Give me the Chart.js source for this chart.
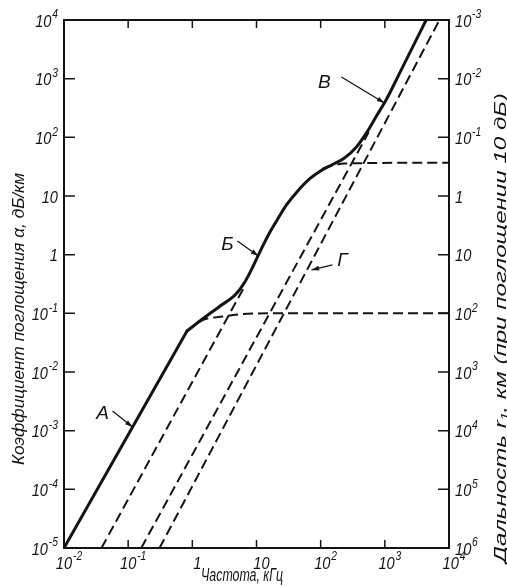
<!DOCTYPE html>
<html>
<head>
<meta charset="utf-8">
<script src="https://cdn.jsdelivr.net/npm/chart.js@4.4.1/dist/chart.umd.min.js"></script>
<style>
  html, body { margin: 0; padding: 0; background: #fff; }
  #wrap { width: 507px; height: 586px; position: relative; }
</style>
</head>
<body>
<div id="wrap"><canvas id="absorptionchart"></canvas></div>
<script>
// axis ticks, labels as [base, exponent]
const freqTicks = [1e-2, 1e-1, 1, 10, 1e2, 1e3, 1e4]
const freqLabels = [['10', '-2'], ['10', '-1'], ['1', ''], ['10', ''], ['10', '2'], ['10', '3'], ['10', '4']]
const alphaTicks = [1e-5, 1e-4, 1e-3, 1e-2, 1e-1, 1, 10, 1e2, 1e3, 1e4]
const alphaLabels = [['10', '-5'], ['10', '-4'], ['10', '-3'], ['10', '-2'], ['10', '-1'], ['1', ''], ['10', ''], ['10', '2'], ['10', '3'], ['10', '4']]
const rangeLabels = [['10', '6'], ['10', '5'], ['10', '4'], ['10', '3'], ['10', '2'], ['10', ''], ['1', ''], ['10', '-1'], ['10', '-2'], ['10', '-3']]

// total absorption, kHz / dB per km
const totalLowF = [0.01, 0.826]
const totalLowA = [1e-5, 0.050]
const totalF = [0.826, 1.44, 2.65, 4.71, 6.73, 8.97, 11.97, 15.9, 21.2, 29.3, 42, 67, 99.4, 153, 235, 361, 517, 741, 1061, 1694, 2700, 4405]
const totalA = [0.050, 0.080, 0.131, 0.209, 0.356, 0.654, 1.27, 2.34, 3.98, 7.04, 11.5, 19.5, 26.7, 34.4, 44.5, 68.4, 119, 231, 446, 1233, 3420, 10000]

// boric acid plateau
const boricF = [0.826, 1.46, 2.98, 6.1, 15.9, 1e4]
const boricA = [0.050, 0.077, 0.088, 0.097, 0.1, 0.1]

// MgSO4 rise and plateau
const mgF = [0.0384, 6.5]
const mgA = [1e-5, 0.287]
const mgPlatF = [108, 160, 234, 1e4]
const mgPlatA = [29.6, 33.5, 35.8, 37]

// viscous absorption, sea water and fresh water
const seaF = [0.16, 560]
const seaA = [1e-5, 122]
const freshF = [0.308, 7110]
const freshA = [1e-5, 1e4]

const ink = '#141414'
const family = '"Liberation Sans", "DejaVu Sans", sans-serif'

function pts(fs, as) {
    return fs.map((f, i) => ({ x: f, y: as[i] }))
}

function solid(fs, as, smooth) {
    return { data: pts(fs, as), borderColor: ink, borderWidth: 3, pointRadius: 0, borderCapStyle: 'round',
             borderJoinStyle: 'round', cubicInterpolationMode: smooth ? 'monotone' : 'default', tension: 0 }
}

function dashed(fs, as, smooth) {
    return { data: pts(fs, as), borderColor: ink, borderWidth: 2, borderDash: [10, 5], pointRadius: 0,
             cubicInterpolationMode: smooth ? 'monotone' : 'default', tension: 0 }
}

// curve letters: tip on the curve (data), tail and text offsets in px
const marks = [
    { text: 'А', f: 0.117, a: 1.15e-3, tx: -20, ty: -16, lx: -30, ly: -13 },
    { text: 'Б', f: 10.7, a: 0.95, tx: -21, ty: -15, lx: -31, ly: -11 },
    { text: 'В', f: 986, a: 385, tx: -43, ty: -26, lx: -60, ly: -20 },
    { text: 'Г', f: 72, a: 0.55, tx: 21, ty: -5, lx: 31, ly: -9 }
]

function fitText(ctx, text, x, y, angle, target) {
    ctx.save()
    ctx.translate(x, y)
    ctx.rotate(angle)
    let w = ctx.measureText(text).width
    ctx.scale(target / w, 1)
    ctx.textAlign = 'center'
    ctx.textBaseline = 'middle'
    ctx.fillText(text, 0, 0)
    ctx.restore()
}

// power-of-ten label: base plus raised exponent, slightly condensed
function drawPow(ctx, lab, x, y, align) {
    const sx = 0.86
    ctx.font = 'italic 17px ' + family
    let wb = ctx.measureText(lab[0]).width
    ctx.font = 'italic 12px ' + family
    let we = lab[1] ? ctx.measureText(lab[1]).width + 1 : 0
    let w = (wb + we) * sx
    let x0 = align === 'right' ? x - w : align === 'center' ? x - w / 2 : x
    ctx.save()
    ctx.translate(x0, y)
    ctx.scale(sx, 1)
    ctx.textAlign = 'left'
    ctx.textBaseline = 'middle'
    ctx.font = 'italic 17px ' + family
    ctx.fillText(lab[0], 0, 0)
    if (lab[1]) {
        ctx.font = 'italic 12px ' + family
        ctx.fillText(lab[1], wb + 1, -7)
    }
    ctx.restore()
}

const framePlugin = {
    id: 'frame',
    afterDraw(chart) {
        const { ctx, chartArea: a, scales } = chart
        ctx.save()
        ctx.strokeStyle = ink
        ctx.fillStyle = ink
        ctx.lineWidth = 2
        ctx.strokeRect(a.left, a.top, a.right - a.left, a.bottom - a.top)

        // inward tick marks
        ctx.lineWidth = 1.5
        ctx.beginPath()
        freqTicks.slice(1, -1).forEach(v => {
            let x = scales.x.getPixelForValue(v)
            ctx.moveTo(x, a.bottom); ctx.lineTo(x, a.bottom - 8)
            ctx.moveTo(x, a.top); ctx.lineTo(x, a.top + 8)
        })
        alphaTicks.slice(1, -1).forEach(v => {
            let y = scales.y.getPixelForValue(v)
            ctx.moveTo(a.left, y); ctx.lineTo(a.left + 11, y)
            ctx.moveTo(a.right, y); ctx.lineTo(a.right - 11, y)
        })
        ctx.stroke()

        // tick labels
        freqTicks.forEach((v, i) => drawPow(ctx, freqLabels[i], scales.x.getPixelForValue(v) + 5, a.bottom + 16, 'center'))
        alphaTicks.forEach((v, i) => {
            let y = scales.y.getPixelForValue(v) + 2
            drawPow(ctx, alphaLabels[i], a.left - 6, y, 'right')
            drawPow(ctx, rangeLabels[i], a.right + 6, y, 'left')
        })

        // axis titles
        ctx.font = 'italic 17px ' + family
        fitText(ctx, 'Коэффициент поглощения α, дБ/км', 19, 319, -Math.PI / 2, 292)
        fitText(ctx, 'Дальность r₁, км (при поглощении 10 дБ)', 501, 328, -Math.PI / 2, 470)
        ctx.font = 'italic 18px ' + family
        fitText(ctx, 'Частота, кГц', 242, 576, 0, 82)

        // curve letters with arrows
        ctx.font = 'italic 19px ' + family
        ctx.textAlign = 'center'
        ctx.textBaseline = 'middle'
        ctx.lineWidth = 1.3
        marks.forEach(m => {
            let x = scales.x.getPixelForValue(m.f)
            let y = scales.y.getPixelForValue(m.a)
            let x0 = x + m.tx, y0 = y + m.ty
            ctx.beginPath()
            ctx.moveTo(x0, y0); ctx.lineTo(x, y)
            ctx.stroke()
            let ang = Math.atan2(y - y0, x - x0)
            ctx.beginPath()
            ctx.moveTo(x, y)
            ctx.lineTo(x - 8 * Math.cos(ang - 0.3), y - 8 * Math.sin(ang - 0.3))
            ctx.lineTo(x - 8 * Math.cos(ang + 0.3), y - 8 * Math.sin(ang + 0.3))
            ctx.closePath()
            ctx.fill()
            ctx.fillText(m.text, x + m.lx, y + m.ly)
        })
        ctx.restore()
    }
}

const hidden = { display: false, drawTicks: false }

const absorptionconfig = {
    type: 'scatter',
    data: {
        datasets: [
            solid(totalLowF, totalLowA, false),
            solid(totalF, totalA, true),
            dashed(boricF, boricA, true),
            dashed(mgF, mgA, false),
            dashed(mgPlatF, mgPlatA, true),
            dashed(seaF, seaA, false),
            dashed(freshF, freshA, false)
        ].map(d => Object.assign(d, { showLine: true }))
    },
    options: {
        responsive: true,
        maintainAspectRatio: false,
        animation: false,
        layout: { padding: { top: 20, left: 0, right: 0, bottom: 0 } },
        plugins: { legend: { display: false }, tooltip: { enabled: false } },
        scales: {
            x: {
                type: 'logarithmic', position: 'bottom', min: 1e-2, max: 1e4,
                afterFit: s => { s.height = 38 },
                grid: hidden, border: { display: false }, ticks: { display: false }
            },
            y: {
                type: 'logarithmic', position: 'left', min: 1e-5, max: 1e4,
                afterFit: s => { s.width = 64 },
                grid: hidden, border: { display: false }, ticks: { display: false }
            },
            y2: {
                type: 'logarithmic', position: 'right', min: 1e-5, max: 1e4,
                afterFit: s => { s.width = 58 },
                grid: hidden, border: { display: false }, ticks: { display: false }
            }
        }
    },
    plugins: [framePlugin]
}

new Chart(document.getElementById('absorptionchart'), absorptionconfig)
</script>
</body>
</html>
